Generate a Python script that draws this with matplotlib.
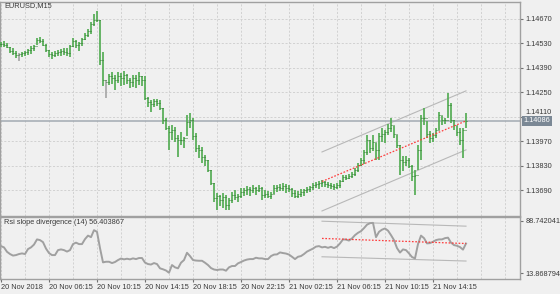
import matplotlib
matplotlib.use('Agg')
import matplotlib.pyplot as plt
import matplotlib.transforms as mtransforms
import numpy as np

plt.rcParams['font.family'] = ['Liberation Sans', 'DejaVu Sans']
plt.rcParams['lines.scale_dashes'] = False

# EURUSD M15 bars, starting 20 Nov 2018 02:15
high = [1.14538, 1.14544, 1.14533, 1.14510, 1.14504, 1.14487, 1.14475, 1.14481, 1.14487, 1.14498,
        1.14515, 1.14521, 1.14561, 1.14567, 1.14556, 1.14527, 1.14493, 1.14481, 1.14487, 1.14493,
        1.14498, 1.14504, 1.14504, 1.14521, 1.14561, 1.14550, 1.14538, 1.14561, 1.14590, 1.14613,
        1.14653, 1.14699, 1.14716, 1.14664, 1.14481, 1.14321, 1.14355, 1.14367, 1.14349, 1.14367,
        1.14361, 1.14372, 1.14355, 1.14332, 1.14349, 1.14349, 1.14367, 1.14344, 1.14344, 1.14223,
        1.14206, 1.14212, 1.14212, 1.14206, 1.14160, 1.14103, 1.14057, 1.14063, 1.14051, 1.14005,
        1.14023, 1.13994, 1.14120, 1.14132, 1.14103, 1.14017, 1.13948, 1.13937, 1.13891, 1.13862,
        1.13805, 1.13731, 1.13673, 1.13662, 1.13673, 1.13662, 1.13645, 1.13679, 1.13690, 1.13668,
        1.13702, 1.13702, 1.13713, 1.13708, 1.13719, 1.13708, 1.13719, 1.13708, 1.13690, 1.13685,
        1.13679, 1.13719, 1.13719, 1.13725, 1.13731, 1.13725, 1.13719, 1.13702, 1.13690, 1.13685,
        1.13696, 1.13696, 1.13708, 1.13713, 1.13731, 1.13736, 1.13742, 1.13748, 1.13742, 1.13736,
        1.13731, 1.13725, 1.13731, 1.13748, 1.13776, 1.13776, 1.13782, 1.13794, 1.13816, 1.13845,
        1.13874, 1.13920, 1.14005, 1.13977, 1.14005, 1.13960, 1.14017, 1.14046, 1.14034, 1.14068,
        1.14103, 1.14057, 1.14005, 1.13948, 1.13885, 1.13885, 1.13874, 1.13834, 1.13805, 1.13948,
        1.14120, 1.14160, 1.14086, 1.14028, 1.14017, 1.14046, 1.14137, 1.14114, 1.14103, 1.14246,
        1.14189, 1.14091, 1.14057, 1.14046, 1.14046, 1.14132]
low = [1.14510, 1.14510, 1.14504, 1.14475, 1.14464, 1.14447, 1.14430, 1.14452, 1.14458, 1.14464,
       1.14470, 1.14487, 1.14521, 1.14533, 1.14515, 1.14481, 1.14452, 1.14441, 1.14452, 1.14458,
       1.14458, 1.14464, 1.14458, 1.14452, 1.14510, 1.14504, 1.14487, 1.14515, 1.14550, 1.14567,
       1.14584, 1.14630, 1.14653, 1.14407, 1.14286, 1.14217, 1.14292, 1.14298, 1.14263, 1.14303,
       1.14286, 1.14292, 1.14298, 1.14275, 1.14281, 1.14275, 1.14292, 1.14286, 1.14206, 1.14166,
       1.14137, 1.14166, 1.14172, 1.14149, 1.14068, 1.14034, 1.13920, 1.13977, 1.13965, 1.13879,
       1.13948, 1.13931, 1.14000, 1.14046, 1.13977, 1.13908, 1.13874, 1.13845, 1.13828, 1.13794,
       1.13719, 1.13622, 1.13576, 1.13599, 1.13587, 1.13576, 1.13576, 1.13616, 1.13633, 1.13622,
       1.13645, 1.13656, 1.13662, 1.13656, 1.13673, 1.13662, 1.13679, 1.13633, 1.13645, 1.13645,
       1.13639, 1.13668, 1.13679, 1.13685, 1.13685, 1.13673, 1.13679, 1.13650, 1.13645, 1.13645,
       1.13650, 1.13656, 1.13673, 1.13679, 1.13690, 1.13702, 1.13696, 1.13708, 1.13708, 1.13702,
       1.13696, 1.13690, 1.13696, 1.13702, 1.13736, 1.13748, 1.13753, 1.13759, 1.13771, 1.13794,
       1.13828, 1.13839, 1.13891, 1.13902, 1.13914, 1.13862, 1.13862, 1.13965, 1.13960, 1.14005,
       1.14023, 1.13988, 1.13931, 1.13776, 1.13799, 1.13828, 1.13816, 1.13742, 1.13662, 1.13805,
       1.13862, 1.14063, 1.13988, 1.13960, 1.13965, 1.13988, 1.14034, 1.14063, 1.14068, 1.14103,
       1.14074, 1.14034, 1.14000, 1.13948, 1.13874, 1.14046]
close = [1.14527, 1.14521, 1.14510, 1.14487, 1.14475, 1.14464, 1.14470, 1.14475, 1.14481, 1.14493,
         1.14504, 1.14515, 1.14550, 1.14544, 1.14521, 1.14493, 1.14470, 1.14464, 1.14475, 1.14481,
         1.14487, 1.14481, 1.14475, 1.14515, 1.14544, 1.14521, 1.14533, 1.14556, 1.14578, 1.14601,
         1.14641, 1.14664, 1.14664, 1.14435, 1.14321, 1.14309, 1.14344, 1.14332, 1.14321, 1.14344,
         1.14332, 1.14349, 1.14321, 1.14309, 1.14332, 1.14321, 1.14344, 1.14321, 1.14217, 1.14195,
         1.14183, 1.14200, 1.14189, 1.14160, 1.14091, 1.14046, 1.14023, 1.14034, 1.13988, 1.13977,
         1.13977, 1.13988, 1.14080, 1.14091, 1.14000, 1.13931, 1.13920, 1.13879, 1.13862, 1.13805,
         1.13731, 1.13645, 1.13656, 1.13633, 1.13650, 1.13604, 1.13633, 1.13662, 1.13650, 1.13656,
         1.13679, 1.13690, 1.13696, 1.13690, 1.13702, 1.13690, 1.13702, 1.13662, 1.13668, 1.13656,
         1.13668, 1.13702, 1.13708, 1.13702, 1.13713, 1.13702, 1.13696, 1.13673, 1.13656, 1.13668,
         1.13679, 1.13690, 1.13696, 1.13708, 1.13719, 1.13725, 1.13731, 1.13736, 1.13725, 1.13719,
         1.13713, 1.13708, 1.13719, 1.13742, 1.13765, 1.13759, 1.13771, 1.13782, 1.13805, 1.13834,
         1.13862, 1.13908, 1.13977, 1.13931, 1.13965, 1.13920, 1.14000, 1.14011, 1.14023, 1.14046,
         1.14063, 1.14011, 1.13948, 1.13862, 1.13851, 1.13862, 1.13828, 1.13771, 1.13776, 1.13920,
         1.14103, 1.14103, 1.14011, 1.13988, 1.14005, 1.14034, 1.14120, 1.14091, 1.14091, 1.14177,
         1.14091, 1.14063, 1.14023, 1.13977, 1.14034, 1.14086]
doji = [6, 35]

rsi = [52.7, 50.9, 44.6, 41.4, 39.2, 39.9, 41.4, 42.3, 41.4, 48.5,
       50.9, 54.9, 62.3, 61.3, 58.4, 49.2, 42.8, 39.9, 39.9, 47.0,
       48.0, 47.0, 44.9, 47.0, 55.6, 57.7, 55.6, 55.6, 62.7, 67.7,
       65.5, 75.5, 73.1, 49.9, 29.5, 30.4, 30.4, 28.5, 30.0, 32.8,
       35.0, 33.8, 34.7, 33.8, 35.2, 34.2, 35.7, 35.7, 29.2, 27.1,
       26.4, 28.5, 27.1, 21.0, 19.6, 17.9, 14.7, 25.7, 22.4, 21.0,
       29.0, 32.8, 43.2, 38.5, 32.8, 32.1, 31.8, 31.8, 29.0, 25.7,
       21.4, 19.3, 18.6, 19.3, 19.3, 17.6, 22.4, 24.3, 24.3, 28.1,
       30.0, 32.1, 33.5, 34.2, 34.2, 36.1, 35.2, 35.2, 34.2, 34.2,
       38.5, 40.6, 40.9, 43.7, 42.8, 42.1, 40.6, 37.5, 34.2, 37.5,
       38.5, 41.4, 44.9, 47.0, 49.2, 52.0, 52.7, 50.9, 51.7, 50.3,
       51.7, 49.9, 52.0, 56.6, 62.3, 62.0, 60.6, 63.7, 68.4, 71.7,
       74.1, 78.4, 83.3, 85.5, 85.9, 65.5, 73.1, 76.2, 77.9, 74.8,
       68.4, 61.3, 49.9, 43.5, 48.0, 47.0, 42.3, 37.1, 35.2, 55.6,
       67.7, 64.1, 56.6, 57.0, 58.9, 61.3, 62.3, 62.3, 64.1, 64.8,
       57.7, 54.2, 53.2, 51.3, 47.7, 56.4]

price_ticks = [1.14670, 1.14530, 1.14390, 1.14250, 1.14110, 1.13970, 1.13830, 1.13690]
last_price = 1.14086
rsi_scale = [13.868794, 88.742041]
time_pos = [0, 16, 32, 48, 64, 80, 96, 112, 128, 144]
time_labels = ['20 Nov 2018', '20 Nov 06:15', '20 Nov 10:15', '20 Nov 14:15', '20 Nov 18:15',
               '20 Nov 22:15', '21 Nov 02:15', '21 Nov 06:15', '21 Nov 10:15', '21 Nov 14:15']

# regression channels (start bar, end bar)
chan_x = [107, 155]
chan_mid = [1.13739, 1.14086]
chan_up = [1.13908, 1.14258]
chan_dn = [1.13570, 1.13920]
rsi_mid = [63.7, 56.4]
rsi_up = [88.3, 81.2]
rsi_dn = [37.5, 31.4]

W, H = 560, 294
BG = '#f0f0f0'
GRID = '#d2d2d2'
SPINE = '#a0a0a0'
TXT = '#3a3a3a'
FS = 5.3
xmin, xmax = -0.2, 173


def px_rect(l, t, r, b):
    return [l / W, 1 - b / H, (r - l) / W, (b - t) / H]


fig = plt.figure(figsize=(W / 100, H / 100), dpi=100, facecolor=BG)
ax = fig.add_axes(px_rect(0.4, 1.5, 520, 215.5), facecolor=BG)
ax2 = fig.add_axes(px_rect(0.4, 217.2, 520, 278.5), facecolor=BG)

for a in (ax, ax2):
    a.set_xlim(xmin, xmax)
    for s in a.spines.values():
        s.set_color(SPINE)
        s.set_linewidth(1.0)
    for k in range(0, 174, 8):
        a.axvline(k, color=GRID, lw=0.7, dashes=(1.5, 1.2), zorder=0)

# main price panel
ax.set_ylim(1.13544, 1.14770)
for p in price_ticks:
    ax.axhline(p, color=GRID, lw=0.7, dashes=(1.5, 1.2), zorder=0)

x = np.arange(len(close))
opens = np.array([close[0]] + close[:-1])
cols = ['#a8a8a8' if i in doji else '#55ad55' for i in x]
ax.vlines(x, low, high, colors=cols, lw=1.25, zorder=3)
ax.hlines(opens, x - 0.45, x, colors='#2f7d2f', lw=0.7, zorder=4)
ax.hlines(close, x, x + 0.45, colors='#2f7d2f', lw=0.7, zorder=4)

ax.plot(chan_x, chan_up, color='#b8b8b8', lw=0.8, zorder=2)
ax.plot(chan_x, chan_dn, color='#b8b8b8', lw=0.8, zorder=2)
ax.plot(chan_x, chan_mid, color='#ff3b3b', lw=0.9, dashes=(1.2, 1.2), zorder=5)
ax.axhline(last_price, color='#a2aab2', lw=1.1, zorder=2)

ax.set_yticks(price_ticks)
ax.set_yticklabels(['%.5f' % p for p in price_ticks])
ax.set_xticks([])
ax.tick_params(axis='y', left=False, labelleft=False, right=True, labelright=True,
               length=2.5, width=0.8, color='#707070', labelsize=FS, labelcolor=TXT, pad=1.5)
# the label just above the current price box is nudged up so the box does not hide it
nudge = mtransforms.ScaledTranslation(0, 5.5 / 100, fig.dpi_scale_trans)
for p, lbl in zip(price_ticks, ax.get_yticklabels()):
    if abs(p - last_price) < 0.0005:
        lbl.set_transform(lbl.get_transform() + nudge)
ax.text(1 + 3.5 / 519.6, last_price, '%.5f' % last_price, transform=ax.get_yaxis_transform(),
        ha='left', va='center', fontsize=FS, color='white', clip_on=False, zorder=10,
        bbox=dict(boxstyle='square,pad=0.22', fc='#7b8895', ec='none'))

# RSI sub panel
ax2.set_ylim(6.47, 94.0)
ax2.plot(x, rsi, color='#a0a0a0', lw=1.4, zorder=3, solid_joinstyle='round')
ax2.plot(chan_x, rsi_up, color='#b8b8b8', lw=0.8, zorder=2)
ax2.plot(chan_x, rsi_dn, color='#b8b8b8', lw=0.8, zorder=2)
ax2.plot(chan_x, rsi_mid, color='#ff3b3b', lw=0.9, dashes=(1.2, 1.2), zorder=4)

ax2.set_yticks(rsi_scale)
ax2.set_yticklabels(['%.6f' % v for v in rsi_scale])
ax2.tick_params(axis='y', left=False, labelleft=False, right=True, labelright=True,
                length=2.5, width=0.8, color='#707070', labelsize=FS, labelcolor=TXT, pad=1.5)
ax2.set_xticks(time_pos)
ax2.set_xticklabels(time_labels)
ax2.tick_params(axis='x', length=2.5, width=0.8, color='#707070', labelsize=FS,
                labelcolor=TXT, pad=1.5)
for lbl in ax2.get_xticklabels():
    lbl.set_ha('left')

fig.text(4 / W, 1 - 2.5 / H, 'EURUSD,M15', ha='left', va='top', fontsize=FS, color=TXT)
fig.text(4 / W, 1 - 219.5 / H, 'Rsi slope divergence (14) 56.403867', ha='left', va='top',
         fontsize=FS, color=TXT)

fig.savefig('out.png', dpi=100, facecolor=BG)
